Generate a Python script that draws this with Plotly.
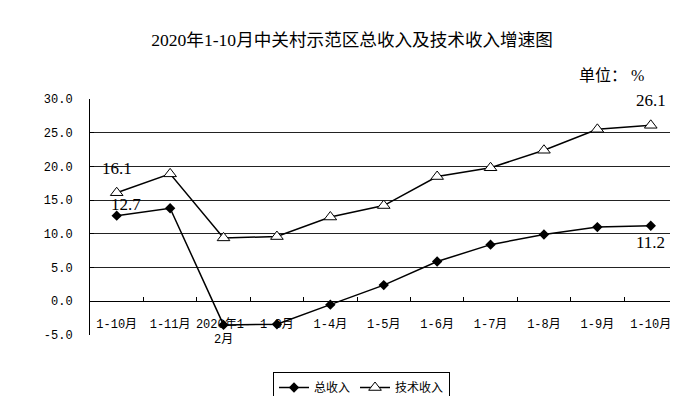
import plotly.graph_objects as go

categories = ["1-10月", "1-11月", "2020年1-2月", "1-3月", "1-4月", "1-5月",
              "1-6月", "1-7月", "1-8月", "1-9月", "1-10月 "]
tick_labels = ["1-10月", "1-11月", "2020年1-<br>2月", "1-3月", "1-4月", "1-5月",
               "1-6月", "1-7月", "1-8月", "1-9月", "1-10月"]
total_income = [12.7, 13.8, -3.5, -3.4, -0.5, 2.4, 5.9, 8.4, 9.9, 11.0, 11.2]
tech_income = [16.1, 18.9, 9.4, 9.6, 12.5, 14.2, 18.5, 19.8, 22.4, 25.5, 26.1]
y_ticks = [-5, 0, 5, 10, 15, 20, 25, 30]

mono = "Liberation Mono, Noto Sans CJK SC"
serif = "Liberation Serif, Noto Sans CJK SC"

fig = go.Figure()
fig.add_trace(go.Scatter(
    x=categories, y=total_income, name="总收入", mode="lines+markers",
    line=dict(color="black", width=1.5),
    marker=dict(symbol="diamond", size=8, color="black"),
))
fig.add_trace(go.Scatter(
    x=categories, y=tech_income, name="技术收入", mode="lines+markers",
    line=dict(color="black", width=1.5),
    marker=dict(symbol="triangle-up", size=11, color="white",
                line=dict(color="black", width=1)),
))

# data labels
ann = []
def lab(i, series, yshift, xshift=0):
    ann.append(dict(x=categories[i], y=series[i], text=f"{series[i]:.1f}",
                    showarrow=False, yshift=yshift, xshift=xshift,
                    font=dict(family=serif, size=17, color="black")))
lab(0, tech_income, 24, 0)
lab(0, total_income, 11, 9)
lab(10, tech_income, 25, 0)
lab(10, total_income, -17, 0)
fig.update_layout(annotations=ann)

fig.add_annotation(text="单位： %", xref="paper", yref="paper",
                   x=0.958, y=1.10, xanchor="right", yanchor="middle",
                   showarrow=False, font=dict(family=serif, size=16, color="black"))

fig.update_layout(
    width=700, height=396,
    paper_bgcolor="white", plot_bgcolor="white",
    margin=dict(l=90, r=30, t=99, b=61),
    title=dict(text="2020年1-10月中关村示范区总收入及技术收入增速图",
               x=352/700, xref="container", xanchor="center", y=0.9, yref="container",
               yanchor="middle", font=dict(family=serif, size=17.6, color="black")),
    xaxis=dict(type="category", range=[-0.5, 10.36], automargin=False,
               tickmode="array", tickvals=categories, ticktext=tick_labels,
               tickangle=0,
               anchor="free", position=5/35,
               showline=True, linecolor="black", linewidth=1,
               ticks="inside", ticklen=4, tickcolor="black", tickson="boundaries",
               ticklabelstandoff=11,
               showgrid=False, zeroline=False,
               tickfont=dict(family=mono, size=12, color="black")),
    yaxis=dict(range=[-5, 30], tickvals=y_ticks, automargin=False,
               ticktext=[f"{v:.1f}" for v in y_ticks],
               showline=True, linecolor="black", linewidth=1,
               ticks="inside", ticklen=4, tickcolor="black",
               ticklabelstandoff=14,
               showgrid=True, gridcolor="#222", gridwidth=1,
               zeroline=False,
               tickfont=dict(family=mono, size=12, color="black")),
    showlegend=True,
    legend=dict(orientation="h", x=273/700, y=1 - 372/396,
                xref="container", yref="container",
                xanchor="left", yanchor="top",
                bordercolor="black", borderwidth=1, bgcolor="white",
                font=dict(family="Noto Sans CJK SC", size=12, color="black"),
                itemwidth=30, tracegroupgap=0),
)

fig.write_html("out.html", config={"displayModeBar": False},
               post_script="document.body.style.margin='0';document.body.style.overflow='hidden';")
